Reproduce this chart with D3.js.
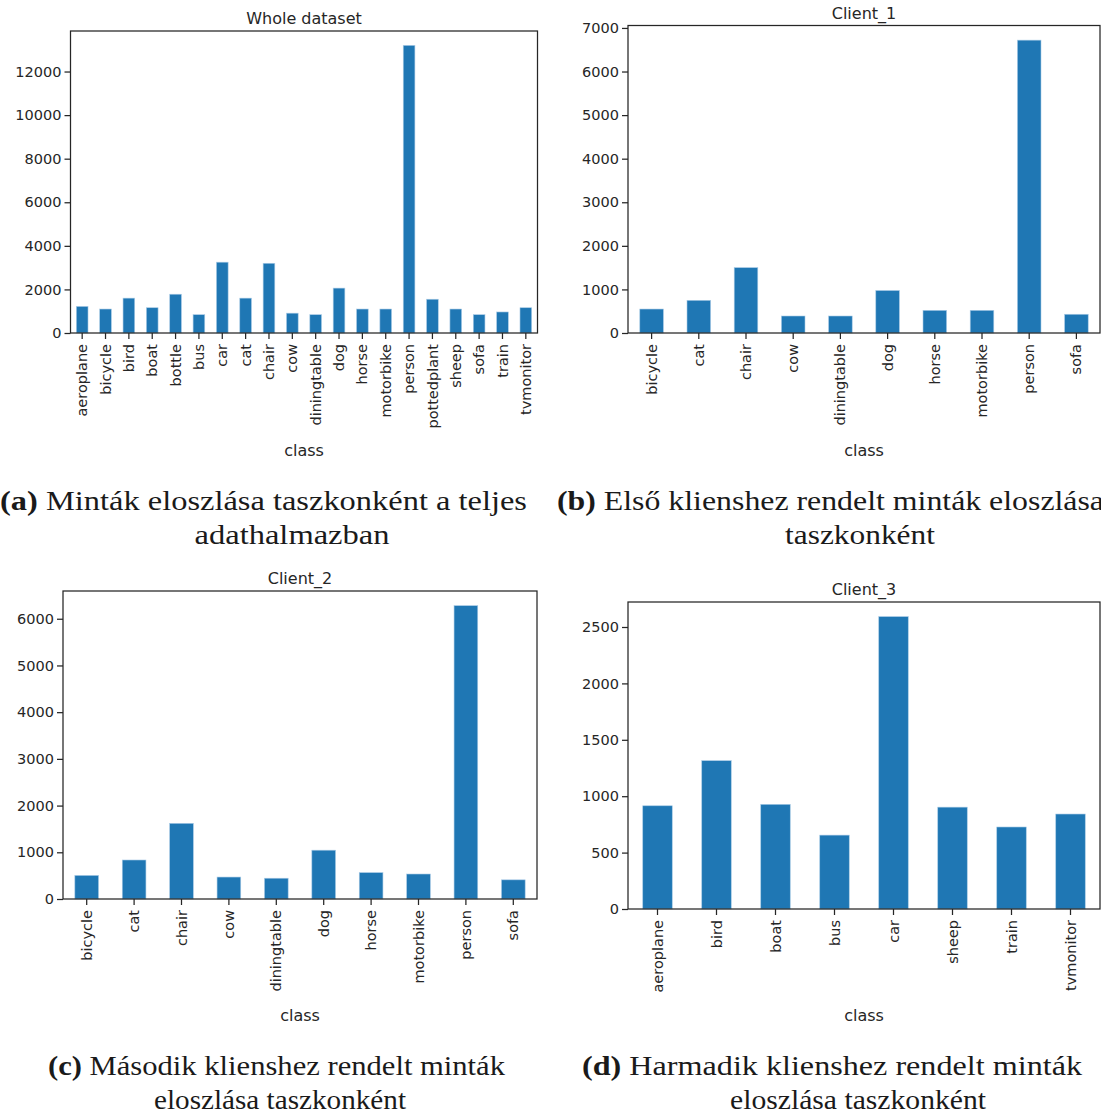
<!DOCTYPE html>
<html>
<head>
<meta charset="utf-8">
<script src="https://cdn.jsdelivr.net/npm/d3@7"></script>
<style>
  body { margin: 0; background: #fff; }
  svg { display: block; }
  .axis text { font-family: "DejaVu Sans", sans-serif; font-size: 14.5px; fill: #262626; }
  .axis line { stroke: #262626; stroke-width: 1.25; }
  .axis path { display: none; }
  .title, .xlabel { font-family: "DejaVu Sans", sans-serif; fill: #262626; }
  .caption { font-family: "Liberation Serif", "DejaVu Serif", serif; font-size: 28px; fill: #1a1a1a; }
</style>
</head>
<body>
<div class="graph"></div>
<script>
"use strict";

// data
var wholeClasses = ["aeroplane", "bicycle", "bird", "boat", "bottle", "bus", "car", "cat", "chair", "cow",
    "diningtable", "dog", "horse", "motorbike", "person", "pottedplant", "sheep", "sofa", "train", "tvmonitor"];
var wholeCounts = [1220, 1100, 1600, 1160, 1780, 840, 3250, 1600, 3200, 910,
    840, 2060, 1100, 1100, 13200, 1550, 1100, 840, 965, 1160];
var wholeTicks = [0, 2000, 4000, 6000, 8000, 10000, 12000];

var client1Classes = ["bicycle", "cat", "chair", "cow", "diningtable", "dog", "horse", "motorbike", "person", "sofa"];
var client1Counts = [550, 750, 1500, 390, 390, 975, 520, 520, 6720, 430];
var client1Ticks = [0, 1000, 2000, 3000, 4000, 5000, 6000, 7000];

var client2Classes = ["bicycle", "cat", "chair", "cow", "diningtable", "dog", "horse", "motorbike", "person", "sofa"];
var client2Counts = [505, 835, 1620, 470, 445, 1045, 565, 535, 6280, 410];
var client2Ticks = [0, 1000, 2000, 3000, 4000, 5000, 6000];

var client3Classes = ["aeroplane", "bird", "boat", "bus", "car", "sheep", "train", "tvmonitor"];
var client3Counts = [915, 1315, 928, 655, 2592, 903, 727, 842];
var client3Ticks = [0, 500, 1000, 1500, 2000, 2500];

var titles = ["Whole dataset", "Client_1", "Client_2", "Client_3"];

var width = 1101;
var height = 1115;

var panels = [
    { title: titles[0], classes: wholeClasses, counts: wholeCounts, ticks: wholeTicks,
      left: 70.5, right: 537.5, top: 31, bottom: 333, labelY: 456 },
    { title: titles[1], classes: client1Classes, counts: client1Counts, ticks: client1Ticks,
      left: 628, right: 1100, top: 25.5, bottom: 333, labelY: 456 },
    { title: titles[2], classes: client2Classes, counts: client2Counts, ticks: client2Ticks,
      left: 63, right: 537, top: 591, bottom: 899, labelY: 1021 },
    { title: titles[3], classes: client3Classes, counts: client3Counts, ticks: client3Ticks,
      left: 628, right: 1100, top: 602, bottom: 909, labelY: 1021 }
];

var svg = d3.select('.graph').append('svg')
    .attr('width', width)
    .attr('height', height)

panels.forEach(function(p) {
    var g = svg.append('g')

    var x = d3.scaleBand()
        .domain(p.classes)
        .range([p.left, p.right])
        .paddingInner(0.5)
        .paddingOuter(0.25)

    var y = d3.scaleLinear()
        .domain([0, d3.max(p.counts) * 1.05])
        .range([p.bottom, p.top])

    g.selectAll('rect.bar')
        .data(p.counts)
        .enter().append('rect')
        .attr('class', 'bar')
        .attr('x', function(d, i) { return x(p.classes[i]) })
        .attr('width', x.bandwidth())
        .attr('y', function(d) { return y(d) })
        .attr('height', function(d) { return y(0) - y(d) })
        .attr('fill', '#1f77b4')
        .attr('stroke', '#a9cbe6')
        .attr('stroke-width', 0.6)

    g.append('g')
        .attr('class', 'axis')
        .attr('transform', 'translate(' + p.left + ',0)')
        .call(d3.axisLeft(y).tickValues(p.ticks).tickFormat(d3.format('d')).tickSize(6).tickPadding(3))

    g.append('g')
        .attr('class', 'axis')
        .attr('transform', 'translate(0,' + p.bottom + ')')
        .call(d3.axisBottom(x).tickSize(6).tickPadding(3))
        .selectAll('text')
        .attr('y', 0)
        .attr('x', -11)
        .attr('dy', '0.35em')
        .attr('transform', 'rotate(-90)')
        .style('text-anchor', 'end')

    g.append('rect')
        .attr('x', p.left)
        .attr('y', p.top)
        .attr('width', p.right - p.left)
        .attr('height', p.bottom - p.top)
        .attr('fill', 'none')
        .attr('stroke', '#262626')
        .attr('stroke-width', 1.25)

    g.append('text')
        .attr('class', 'title')
        .attr('x', (p.left + p.right) / 2)
        .attr('y', p.top - 7)
        .attr('text-anchor', 'middle')
        .attr('font-size', '16px')
        .text(p.title)

    g.append('text')
        .attr('class', 'xlabel')
        .attr('x', (p.left + p.right) / 2)
        .attr('y', p.labelY)
        .attr('text-anchor', 'middle')
        .attr('font-size', '16px')
        .text('class')
})

// LaTeX-style subfigure captions
var captions = [
    { label: '(a)', lines: ['Minták eloszlása taszkonként a teljes', 'adathalmazban'], x: [0, 292], y: [510, 544], len: [527, 195] },
    { label: '(b)', lines: ['Első klienshez rendelt minták eloszlása', 'taszkonként'], x: [557, 860], y: [510, 544], len: [547, 150] },
    { label: '(c)', lines: ['Második klienshez rendelt minták', 'eloszlása taszkonként'], x: [48, 280], y: [1075, 1109], len: [457, 252] },
    { label: '(d)', lines: ['Harmadik klienshez rendelt minták', 'eloszlása taszkonként'], x: [582, 858], y: [1075, 1109], len: [500, 256] }
];

captions.forEach(function(c) {
    var t = svg.append('text')
        .attr('class', 'caption')
        .attr('x', c.x[0])
        .attr('y', c.y[0])
        .attr('textLength', c.len[0])
        .attr('lengthAdjust', 'spacingAndGlyphs')
    t.append('tspan').attr('font-weight', 'bold').text(c.label)
    t.append('tspan').text(' ' + c.lines[0])

    svg.append('text')
        .attr('class', 'caption')
        .attr('x', c.x[1] - c.len[1] / 2)
        .attr('y', c.y[1])
        .attr('textLength', c.len[1])
        .attr('lengthAdjust', 'spacingAndGlyphs')
        .text(c.lines[1])
})
</script>
</body>
</html>
